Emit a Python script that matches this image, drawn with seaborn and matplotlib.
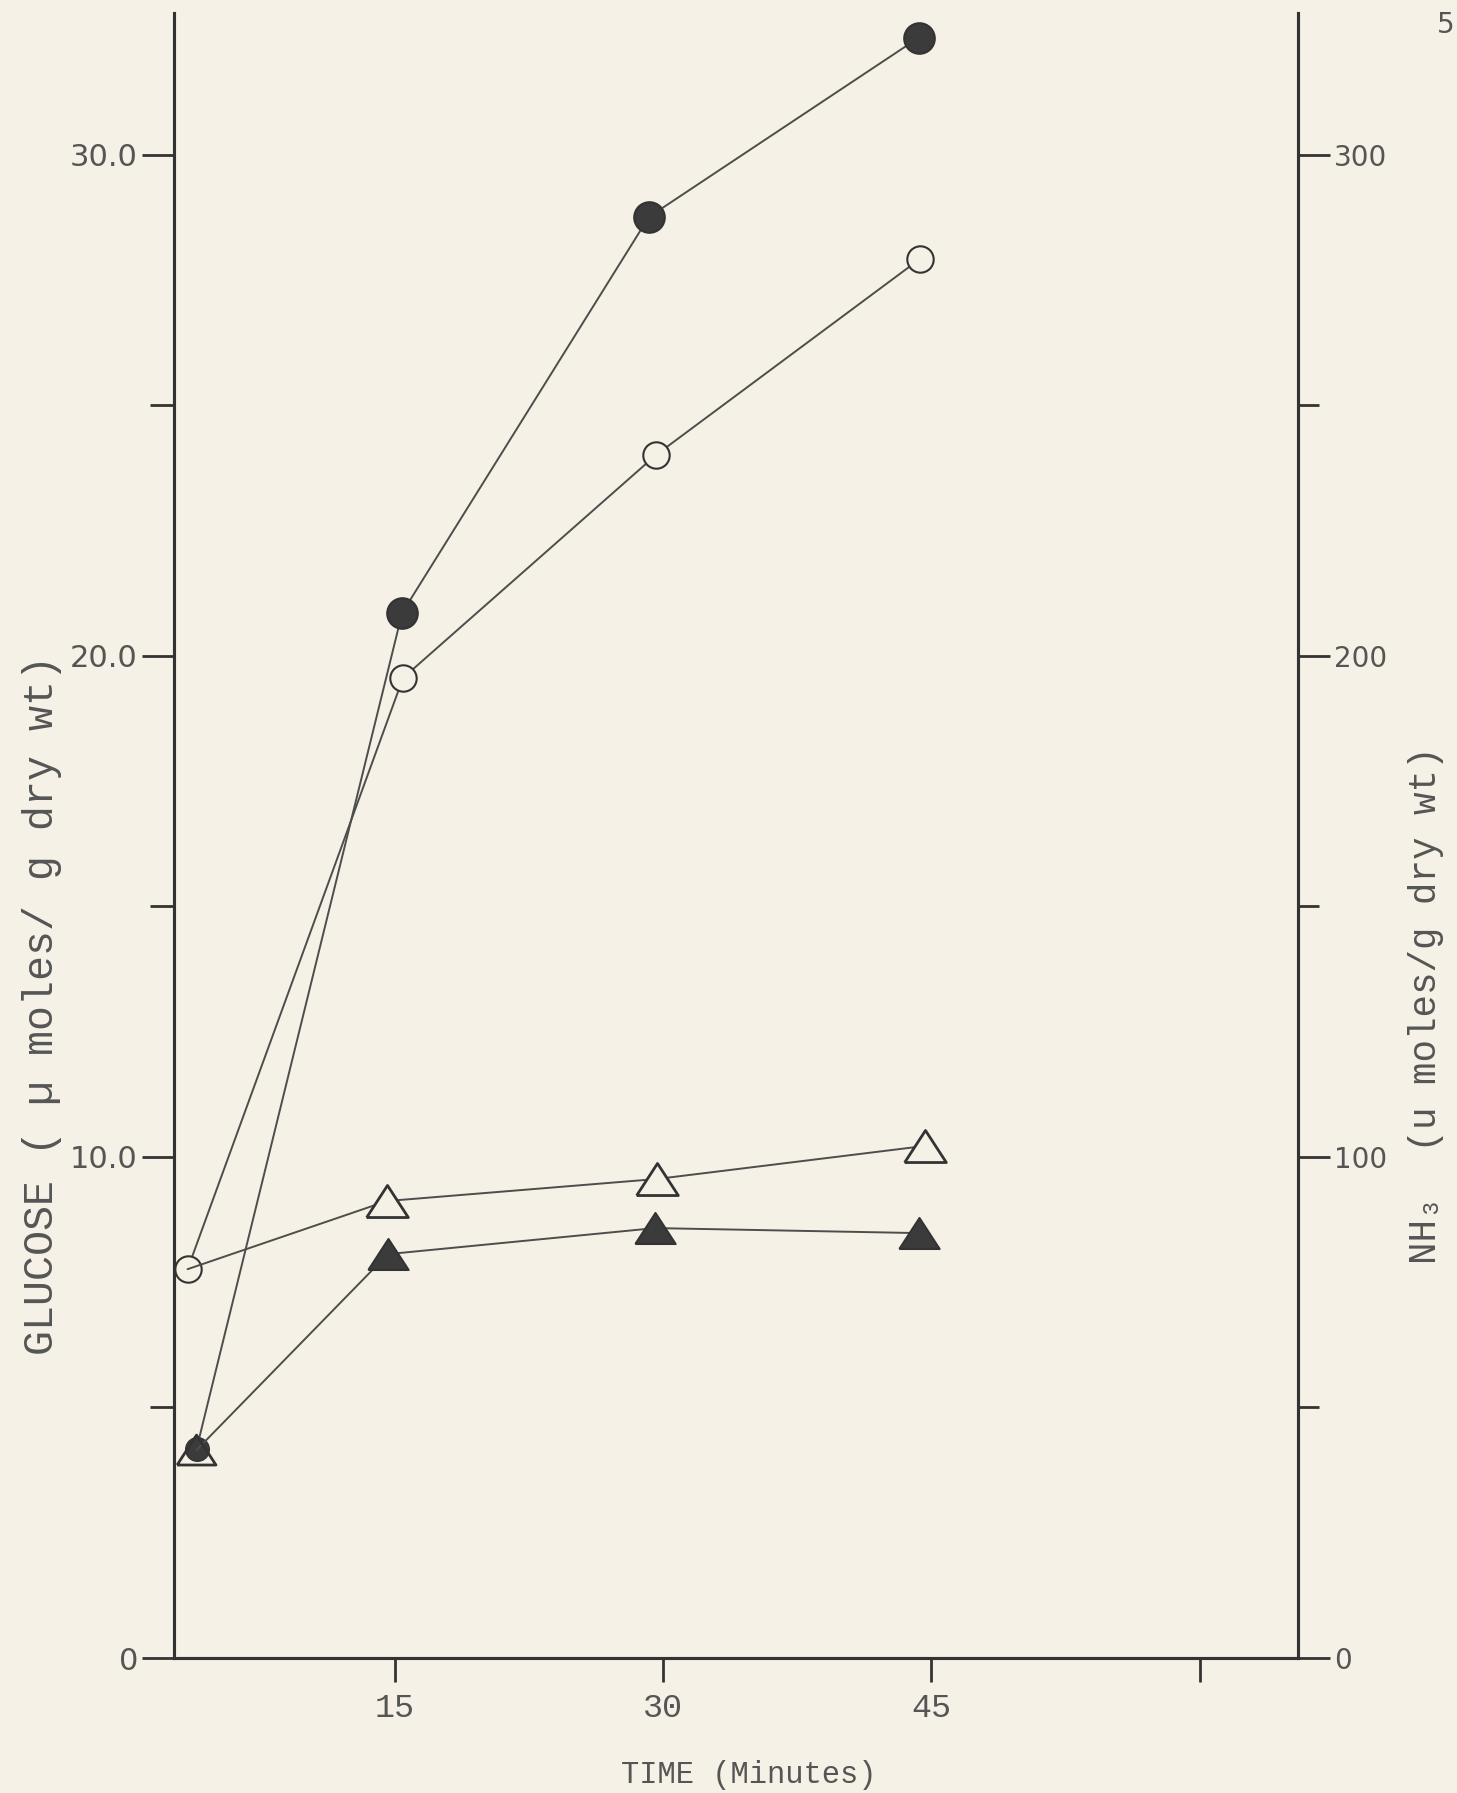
import matplotlib
matplotlib.use("Agg")
import matplotlib.pyplot as plt
import seaborn as sns
from matplotlib.ticker import FixedLocator

# values
# circles -> glucose (left axis), triangles -> NH3 (right axis)
t_glc_filled = [3.9, 15.4, 29.2, 44.3]
glc_filled = [4.17, 20.86, 28.76, 32.34]
t_glc_open = [3.4, 15.45, 29.6, 44.35]
glc_open = [7.76, 19.56, 24.01, 27.92]
# open-triangle curve starts from the open circle at the first time point
t_nh3_open = [3.4, 14.55, 29.65, 44.65]
nh3_open = [77.6, 91.2, 95.6, 102.2]
# filled-triangle curve starts from the filled circle at the first time point
t_nh3_filled = [3.9, 14.6, 29.55, 44.3]
nh3_filled = [41.5, 80.6, 85.8, 84.8]

x_ticks = [15, 30, 45, 60]
x_tick_labels = ["15", "30", "45", ""]
left_ticks = [0, 10, 20, 30]
left_tick_labels = ["0", "10.0", "20.0", "30.0"]
left_minor = [5, 15, 25]
right_ticks = [0, 100, 200, 300]
right_tick_labels = ["0", "100", "200", "300"]
right_minor = [50, 150, 250]

paper = "#f6f1e6"
ink = "#333333"
line_c = "#4d4d4d"
text_c = "#555555"
fill_c = "#3b3b3b"

sns.set_style("ticks", rc={"axes.facecolor": paper, "figure.facecolor": paper,
                           "axes.edgecolor": ink, "xtick.color": ink, "ytick.color": ink})
plt.rcParams["font.family"] = ["DejaVu Sans"]
mono = ["Liberation Mono", "DejaVu Sans Mono"]

W, H = 1457, 1793
fig = plt.figure(figsize=(W / 100, H / 100), dpi=100)
box = [174 / W, 135 / H, 1124 / W, 1645 / H]
ax = fig.add_axes(box)
ax2 = ax.twinx()
ax2.set_position(box)

tri = [(-0.65, -0.5), (0.65, -0.5), (0.0, 0.5), (-0.65, -0.5)]

# glucose (circles)
sns.lineplot(x=t_glc_filled, y=glc_filled, ax=ax, sort=False, color=line_c, lw=1.4,
             marker="o", markersize=22, markerfacecolor=fill_c, markeredgecolor=ink,
             markeredgewidth=1.5, markevery=[1, 2, 3], legend=False)
sns.scatterplot(x=t_glc_filled[:1], y=glc_filled[:1], ax=ax, s=17 ** 2, color=fill_c,
                edgecolor=ink, linewidth=1.0, legend=False, zorder=3)
sns.lineplot(x=t_glc_open, y=glc_open, ax=ax, sort=False, color=line_c, lw=1.4,
             marker="o", markersize=19, markerfacecolor=paper, markeredgecolor=ink,
             markeredgewidth=1.5, legend=False)

# NH3 (triangles)
sns.lineplot(x=t_nh3_open, y=nh3_open, ax=ax2, sort=False, color=line_c, lw=1.4,
             marker=tri, markersize=30, markerfacecolor=paper, markeredgecolor=ink,
             markeredgewidth=2.0, markevery=[1, 2, 3], legend=False)
sns.lineplot(x=t_nh3_filled, y=nh3_filled, ax=ax2, sort=False, color=line_c, lw=1.4,
             marker=tri, markersize=29, markerfacecolor=fill_c, markeredgecolor=ink,
             markeredgewidth=1.5, markevery=[1, 2, 3], legend=False)
# first point: open triangle drawn round the filled circle
sns.scatterplot(x=t_nh3_filled[:1], y=nh3_filled[:1], ax=ax2, marker=tri, s=28 ** 2,
                facecolor="none", edgecolor=ink, linewidth=2.0, legend=False, zorder=3)

ax.set_xlim(2.64, 65.5)
ax.set_ylim(0, 32.83)
ax2.set_ylim(0, 328.3)

for a in (ax, ax2):
    a.spines["top"].set_visible(False)
    for s in ("left", "right", "bottom"):
        a.spines[s].set_linewidth(2.2)
        a.spines[s].set_color(ink)

ax.xaxis.set_major_locator(FixedLocator(x_ticks))
ax.set_xticklabels(x_tick_labels, family=mono, fontsize=24, color=text_c)
ax.yaxis.set_major_locator(FixedLocator(left_ticks))
ax.yaxis.set_minor_locator(FixedLocator(left_minor))
ax.set_yticklabels(left_tick_labels, fontsize=22, color=text_c)
ax2.yaxis.set_major_locator(FixedLocator(right_ticks))
ax2.yaxis.set_minor_locator(FixedLocator(right_minor))
ax2.set_yticklabels(right_tick_labels, fontsize=20, color=text_c)

ax.tick_params(axis="x", which="major", length=17, width=2.0, pad=8, direction="out")
ax.tick_params(axis="y", which="major", length=23, width=2.0, pad=3)
ax.tick_params(axis="y", which="minor", length=17, width=2.0)
ax2.tick_params(axis="y", which="major", length=23, width=2.0, pad=3)
ax2.tick_params(axis="y", which="minor", length=15, width=2.0)

ax.set_xlabel("TIME (Minutes)", family=mono, fontsize=22, color=text_c)
ax.xaxis.set_label_coords(0.511, -0.0711)
ax.xaxis.label.set_va("center")

ax.set_ylabel("GLUCOSE ( µ moles/ g dry wt)", family=mono, fontsize=30, color=text_c)
ax.yaxis.set_label_coords(-0.1174, 0.397)
ax.yaxis.label.set_va("center")

ax2.set_ylabel("NH₃  (u moles/g dry wt)", family=mono, fontsize=27, color=text_c, rotation=90)
ax2.yaxis.set_label_coords(1.114, 0.397)
ax2.yaxis.label.set_va("center")

fig.text(1437 / W, 1 - 25 / H, "5", ha="left", va="center", fontsize=20, color=text_c)

fig.savefig("out.png", dpi=100, facecolor=paper)
